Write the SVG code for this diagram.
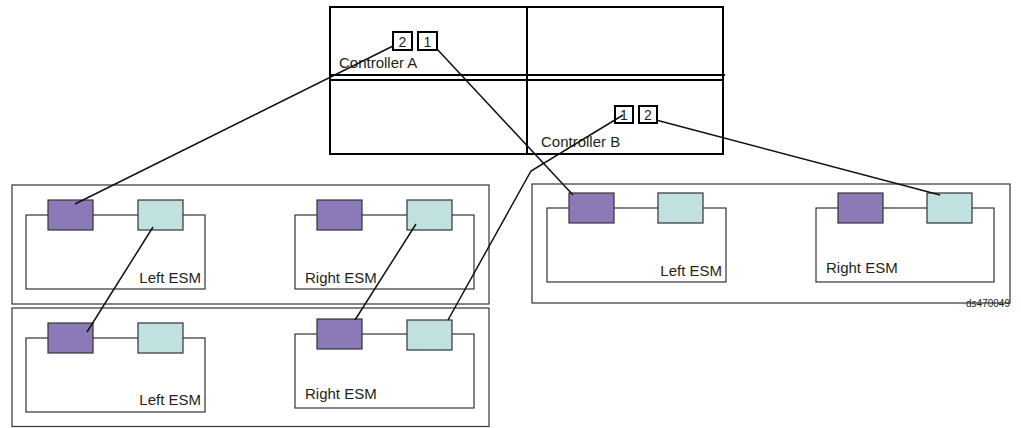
<svg xmlns="http://www.w3.org/2000/svg" width="1021" height="428" viewBox="0 0 1021 428">
<style>
.ctl{fill:none;stroke:#000;stroke-width:2}
.port{fill:#fff;stroke:#000;stroke-width:2}
.encl{fill:none;stroke:#333;stroke-width:1.2}
.brk{fill:none;stroke:#333;stroke-width:1.2}
.pur{fill:#8c7ab8;stroke:#333;stroke-width:1.2}
.cyn{fill:#c0e1df;stroke:#333;stroke-width:1.2}
.lbl{font-family:"Liberation Sans",Arial,sans-serif;font-size:15px;fill:#231f20}
.pnum{font-family:"Liberation Sans",Arial,sans-serif;font-size:14px;fill:#231f20;text-anchor:middle}
.cn{fill:none;stroke:#111;stroke-width:1.5}
</style>
<rect width="1021" height="428" fill="#fff"/>
<g id="controller">
<rect class="ctl" x="330" y="7" width="393" height="147"/>
<line class="ctl" x1="527" y1="7" x2="527" y2="154"/>
<line class="ctl" x1="330" y1="75" x2="725" y2="75"/>
<line class="ctl" x1="330" y1="80" x2="723" y2="80"/>
</g>
<g id="controllerA">
<text class="lbl" x="339" y="68">Controller A</text>
<rect class="port" x="393" y="32" width="19" height="18"/>
<text class="pnum" x="402.5" y="47">2</text>
<rect class="port" x="418" y="32" width="19" height="18"/>
<text class="pnum" x="427.5" y="47">1</text>
</g>
<g id="controllerB">
<text class="lbl" x="541" y="147">Controller B</text>
<rect class="port" x="615" y="106" width="18" height="17"/>
<text class="pnum" x="624" y="120">1</text>
<rect class="port" x="639" y="106" width="18" height="17"/>
<text class="pnum" x="648" y="120">2</text>
</g>
<g id="enclosure1">
<rect class="encl" x="12" y="185" width="477" height="119"/>
<g id="e1-left">
<rect class="brk" x="26" y="215" width="179" height="74"/>
<rect class="pur" x="48" y="200" width="45" height="30"/>
<rect class="cyn" x="138" y="200" width="45" height="30"/>
<text class="lbl" x="201" y="283" text-anchor="end">Left ESM</text>
</g>
<g id="e1-right">
<rect class="brk" x="295" y="215" width="179" height="74"/>
<rect class="pur" x="317" y="200" width="45" height="30"/>
<rect class="cyn" x="407" y="200" width="45" height="30"/>
<text class="lbl" x="305" y="283">Right ESM</text>
</g>
</g>
<g id="enclosure2">
<rect class="encl" x="12" y="308" width="477" height="118.5"/>
<g id="e2-left">
<rect class="brk" x="26" y="338" width="179" height="74"/>
<rect class="pur" x="48" y="323" width="45" height="30"/>
<rect class="cyn" x="138" y="323" width="45" height="30"/>
<text class="lbl" x="201" y="405" text-anchor="end">Left ESM</text>
</g>
<g id="e2-right">
<rect class="brk" x="295" y="334" width="179" height="74"/>
<rect class="pur" x="317" y="319" width="45" height="30"/>
<rect class="cyn" x="407" y="320" width="45" height="30"/>
<text class="lbl" x="305" y="399">Right ESM</text>
</g>
</g>
<g id="enclosure3">
<rect class="encl" x="532" y="184" width="478" height="119"/>
<g id="e3-left">
<rect class="brk" x="547" y="208" width="179" height="74"/>
<rect class="pur" x="569" y="193" width="45" height="30"/>
<rect class="cyn" x="658" y="193" width="45" height="30"/>
<text class="lbl" x="722" y="276" text-anchor="end">Left ESM</text>
</g>
<g id="e3-right">
<rect class="brk" x="816" y="208" width="178" height="74"/>
<rect class="pur" x="838" y="193" width="45" height="30"/>
<rect class="cyn" x="927" y="193" width="45" height="30"/>
<text class="lbl" x="826" y="273">Right ESM</text>
</g>
</g>
<g id="connectors">
<line class="cn" x1="393" y1="46" x2="75" y2="204"/>
<line class="cn" x1="437" y1="49" x2="573" y2="195"/>
<polyline class="cn" points="623,115 531,171 448,320"/>
<line class="cn" x1="656" y1="120" x2="940" y2="195"/>
<line class="cn" x1="153" y1="227" x2="87" y2="332"/>
<line class="cn" x1="416" y1="224" x2="355" y2="320"/>
</g>
<text id="figid" x="1010" y="307" text-anchor="end" style="font-family:'Liberation Sans',Arial,sans-serif;font-size:10px;fill:#231f20">ds470049</text>
</svg>
